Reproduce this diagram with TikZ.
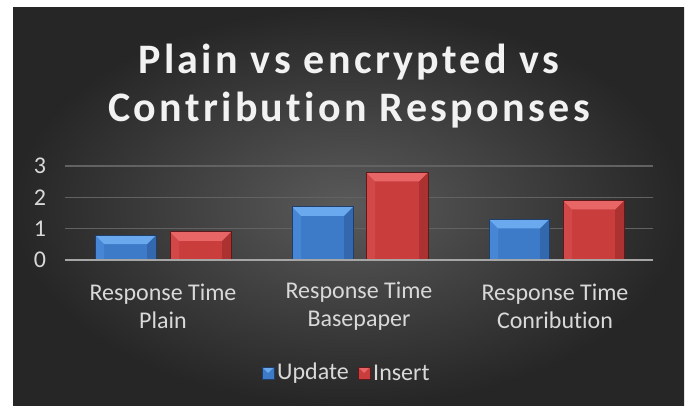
\documentclass[tikz,border=0pt]{standalone}
\usepackage{fontspec}
\setmainfont{Carlito}[Ligatures=NoCommon]
\newfontfamily\titlefont{Carlito Bold}[LetterSpace=8,Ligatures=NoCommon]
\definecolor{bgin}{HTML}{5A5A5A}
\definecolor{bgout}{HTML}{262626}
\definecolor{gridc}{HTML}{626262}
\definecolor{axisc}{HTML}{A6A6A6}
\definecolor{txt}{HTML}{D9D9D9}
\definecolor{blueface}{HTML}{3D7BC8}
\definecolor{bluetop}{HTML}{6AA9EE}
\definecolor{blueleft}{HTML}{4686D4}
\definecolor{blueright}{HTML}{3368AE}
\definecolor{blueedge}{HTML}{1F3F6A}
\definecolor{redface}{HTML}{C93D3D}
\definecolor{redtop}{HTML}{E86666}
\definecolor{redleft}{HTML}{D24848}
\definecolor{redright}{HTML}{AC3232}
\definecolor{rededge}{HTML}{5E1A1A}
\newcommand\mybar[4]{%
  \fill[#4face] (#1,#3) rectangle (#2,260);
  \fill[#4left] (#1,#3) -- ({#1+9},{#3+9}) -- ({#1+9},260) -- (#1,260) -- cycle;
  \fill[#4right] (#2,#3) -- ({#2-9},{#3+9}) -- ({#2-9},260) -- (#2,260) -- cycle;
  \fill[#4top] (#1,#3) -- (#2,#3) -- ({#2-9},{#3+9}) -- ({#1+9},{#3+9}) -- cycle;
  \draw[#4edge, line width=0.8pt] (#1,260) -- (#1,#3) -- (#2,#3) -- (#2,260);
}
\newcommand\mykey[3]{%
  \fill[#3face] (#1,#2) rectangle ({#1+12},{#2+12});
  \fill[#3top] (#1,#2) -- ({#1+12},#2) -- ({#1+6},{#2+6}) -- cycle;
  \draw[#3edge, line width=0.6pt] (#1,#2) rectangle ({#1+12},{#2+12});
}
\tikzset{
  gridline/.style={draw=gridc, line width=1.2pt},
  ticklbl/.style={text=txt, font=\fontsize{24}{28}\selectfont, inner sep=0pt},
  catlbl/.style={text=txt, font=\fontsize{24}{28}\selectfont, align=center, inner sep=0pt},
  titlelbl/.style={font=\titlefont\fontsize{42}{48}\selectfont, align=center, inner sep=0pt},
}
\begin{document}
\begin{tikzpicture}[x=1pt,y=-1pt]
\useasboundingbox (0,0) rectangle (693,406);
\fill[white] (0,0) rectangle (693,406);
\shade[inner color=bgin, outer color=bgout] (13,8) rectangle (684,406);
% grid
\foreach \v in {1,2,3} \draw[gridline] (65,{260-31.3*\v}) -- (653,{260-31.3*\v});
% ticks
\foreach \v in {0,1,2,3} \node[ticklbl] (t\v) at (40,{260-31.3*\v}) {\v};
% bars
\mybar{95}{156}{235}{blue}
\mybar{170}{231}{231.8}{red}
\mybar{292}{353}{206.8}{blue}
\mybar{366}{428}{172.4}{red}
\mybar{489}{549}{219.3}{blue}
\mybar{563}{624}{200.5}{red}
% axis
\draw[draw=axisc, line width=2.2pt] (65,260) -- (653,260);
% category labels
\node[catlbl] (c1) at (163,306) {Response Time\\Plain};
\node[catlbl] (c2) at (359,306) {Response Time\\Basepaper};
\node[catlbl] (c3) at (555,306) {Response Time\\Conribution};
% legend
\mykey{262}{367}{blue}
\node[ticklbl, anchor=west] (lu) at (277,373) {Update};
\mykey{358}{367}{red}
\node[ticklbl, anchor=west] (li) at (373,373) {Insert};
% title
\node[titlelbl, text=white!95!black] (title) at (349,86) {Plain vs encrypted vs\\Contribution Responses};
\end{tikzpicture}
\end{document}
